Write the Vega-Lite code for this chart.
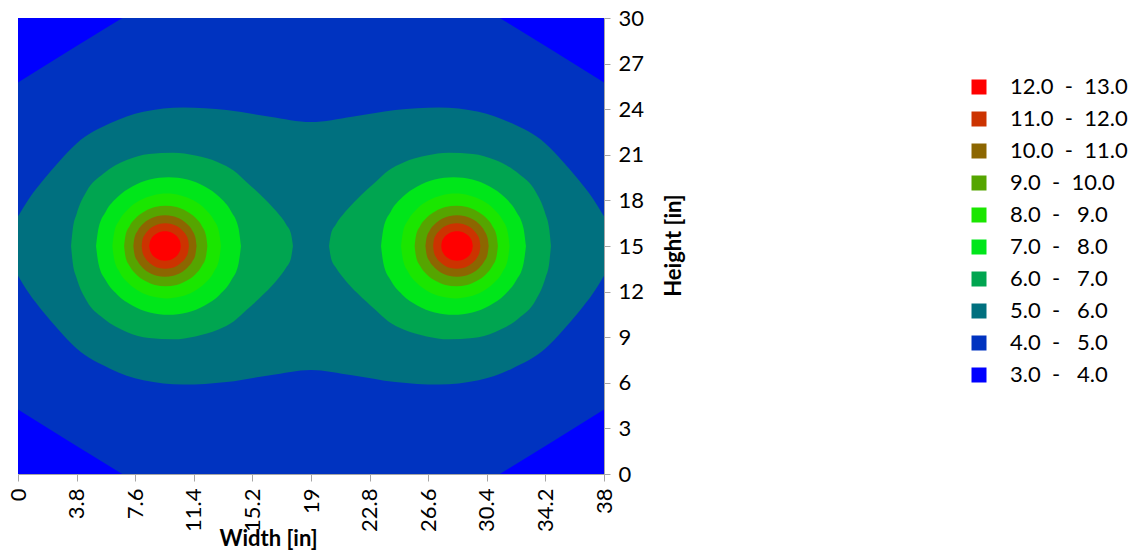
{
  "$schema": "https://vega.github.io/schema/vega-lite/v6.json",
  "width": 586,
  "height": 456,
  "autosize": {"type": "none"},
  "padding": {"left": 18, "top": 18, "right": 535, "bottom": 76},
  "background": "white",
  "config": {
    "view": {"stroke": "#BFBFBF", "strokeWidth": 1},
    "font": "Lato"
  },
  "data": {"values": [
    {"k":3,"id":"A","x":0,"lo":0,"hi":30},{"k":3,"id":"A","x":38,"lo":0,"hi":30},
    {"k":4,"id":"A","x":0,"lo":4.24,"hi":25.76},{"k":4,"id":"A","x":3.38,"lo":2.1,"hi":27.9},{"k":4,"id":"A","x":6.76,"lo":0,"hi":30},{"k":4,"id":"A","x":31.24,"lo":0,"hi":30},{"k":4,"id":"A","x":34.62,"lo":2.1,"hi":27.9},{"k":4,"id":"A","x":38,"lo":4.24,"hi":25.76},
    {"k":5,"id":"A","x":0,"lo":13.05,"hi":16.95},{"k":5,"id":"A","x":0.7,"lo":11.9,"hi":18.1},{"k":5,"id":"A","x":1.64,"lo":10.66,"hi":19.34},{"k":5,"id":"A","x":2.7,"lo":9.4,"hi":20.6},{"k":5,"id":"A","x":3.8,"lo":8.25,"hi":21.75},{"k":5,"id":"A","x":5.97,"lo":6.93,"hi":23.07},{"k":5,"id":"A","x":8.13,"lo":6.16,"hi":23.84},{"k":5,"id":"A","x":10.72,"lo":5.88,"hi":24.12},{"k":5,"id":"A","x":13.53,"lo":6.05,"hi":23.95},{"k":5,"id":"A","x":16.34,"lo":6.5,"hi":23.5},{"k":5,"id":"A","x":19,"lo":6.85,"hi":23.15},{"k":5,"id":"A","x":21.66,"lo":6.5,"hi":23.5},{"k":5,"id":"A","x":24.47,"lo":6.05,"hi":23.95},{"k":5,"id":"A","x":27.28,"lo":5.88,"hi":24.12},{"k":5,"id":"A","x":29.87,"lo":6.16,"hi":23.84},{"k":5,"id":"A","x":32.03,"lo":6.93,"hi":23.07},{"k":5,"id":"A","x":34.2,"lo":8.25,"hi":21.75},{"k":5,"id":"A","x":35.3,"lo":9.4,"hi":20.6},{"k":5,"id":"A","x":36.36,"lo":10.66,"hi":19.34},{"k":5,"id":"A","x":37.3,"lo":11.9,"hi":18.1},{"k":5,"id":"A","x":38,"lo":13.05,"hi":16.95},
    {"k":6,"id":"L","x":3.44,"lo":15,"hi":15},{"k":6,"id":"L","x":3.55,"lo":13.9,"hi":16.1},{"k":6,"id":"L","x":3.8,"lo":12.9,"hi":17.1},{"k":6,"id":"L","x":4.45,"lo":11.4,"hi":18.6},{"k":6,"id":"L","x":5.53,"lo":10.25,"hi":19.75},{"k":6,"id":"L","x":7.05,"lo":9.35,"hi":20.65},{"k":6,"id":"L","x":8.5,"lo":8.95,"hi":21.05},{"k":6,"id":"L","x":10.07,"lo":8.86,"hi":21.14},{"k":6,"id":"L","x":11.5,"lo":9.05,"hi":20.95},{"k":6,"id":"L","x":13.0,"lo":9.5,"hi":20.5},{"k":6,"id":"L","x":14.0,"lo":10.05,"hi":19.95},{"k":6,"id":"L","x":14.83,"lo":10.8,"hi":19.2},{"k":6,"id":"L","x":16.0,"lo":11.9,"hi":18.1},{"k":6,"id":"L","x":16.78,"lo":12.75,"hi":17.25},{"k":6,"id":"L","x":17.4,"lo":13.6,"hi":16.4},{"k":6,"id":"L","x":17.7,"lo":14.2,"hi":15.8},{"k":6,"id":"L","x":17.83,"lo":15,"hi":15},
    {"k":6,"id":"R","x":20.17,"lo":15,"hi":15},{"k":6,"id":"R","x":20.3,"lo":14.2,"hi":15.8},{"k":6,"id":"R","x":20.6,"lo":13.6,"hi":16.4},{"k":6,"id":"R","x":21.22,"lo":12.75,"hi":17.25},{"k":6,"id":"R","x":22.0,"lo":11.9,"hi":18.1},{"k":6,"id":"R","x":23.17,"lo":10.8,"hi":19.2},{"k":6,"id":"R","x":24.0,"lo":10.05,"hi":19.95},{"k":6,"id":"R","x":25.0,"lo":9.5,"hi":20.5},{"k":6,"id":"R","x":26.5,"lo":9.05,"hi":20.95},{"k":6,"id":"R","x":27.93,"lo":8.86,"hi":21.14},{"k":6,"id":"R","x":29.5,"lo":8.95,"hi":21.05},{"k":6,"id":"R","x":30.95,"lo":9.35,"hi":20.65},{"k":6,"id":"R","x":32.47,"lo":10.25,"hi":19.75},{"k":6,"id":"R","x":33.55,"lo":11.4,"hi":18.6},{"k":6,"id":"R","x":34.2,"lo":12.9,"hi":17.1},{"k":6,"id":"R","x":34.45,"lo":13.9,"hi":16.1},{"k":6,"id":"R","x":34.56,"lo":15,"hi":15},
    {"k":7,"id":"L","x":5.06,"lo":15,"hi":15},{"k":7,"id":"L","x":5.22,"lo":13.83,"hi":16.17},{"k":7,"id":"L","x":5.69,"lo":12.74,"hi":17.26},{"k":7,"id":"L","x":6.44,"lo":11.8,"hi":18.2},{"k":7,"id":"L","x":7.41,"lo":11.09,"hi":18.91},{"k":7,"id":"L","x":8.54,"lo":10.63,"hi":19.37},{"k":7,"id":"L","x":9.76,"lo":10.48,"hi":19.52},{"k":7,"id":"L","x":10.98,"lo":10.63,"hi":19.37},{"k":7,"id":"L","x":12.11,"lo":11.09,"hi":18.91},{"k":7,"id":"L","x":13.08,"lo":11.8,"hi":18.2},{"k":7,"id":"L","x":13.83,"lo":12.74,"hi":17.26},{"k":7,"id":"L","x":14.3,"lo":13.83,"hi":16.17},{"k":7,"id":"L","x":14.46,"lo":15,"hi":15},
    {"k":7,"id":"R","x":23.54,"lo":15,"hi":15},{"k":7,"id":"R","x":23.7,"lo":13.83,"hi":16.17},{"k":7,"id":"R","x":24.17,"lo":12.74,"hi":17.26},{"k":7,"id":"R","x":24.92,"lo":11.8,"hi":18.2},{"k":7,"id":"R","x":25.89,"lo":11.09,"hi":18.91},{"k":7,"id":"R","x":27.02,"lo":10.63,"hi":19.37},{"k":7,"id":"R","x":28.24,"lo":10.48,"hi":19.52},{"k":7,"id":"R","x":29.46,"lo":10.63,"hi":19.37},{"k":7,"id":"R","x":30.59,"lo":11.09,"hi":18.91},{"k":7,"id":"R","x":31.56,"lo":11.8,"hi":18.2},{"k":7,"id":"R","x":32.31,"lo":12.74,"hi":17.26},{"k":7,"id":"R","x":32.78,"lo":13.83,"hi":16.17},{"k":7,"id":"R","x":32.94,"lo":15,"hi":15},
    {"k":8,"id":"L","x":6.12,"lo":15,"hi":15},{"k":8,"id":"L","x":6.24,"lo":14.11,"hi":15.89},{"k":8,"id":"L","x":6.59,"lo":13.28,"hi":16.72},{"k":8,"id":"L","x":7.15,"lo":12.56,"hi":17.44},{"k":8,"id":"L","x":7.88,"lo":12.01,"hi":17.99},{"k":8,"id":"L","x":8.73,"lo":11.67,"hi":18.33},{"k":8,"id":"L","x":9.64,"lo":11.55,"hi":18.45},{"k":8,"id":"L","x":10.55,"lo":11.67,"hi":18.33},{"k":8,"id":"L","x":11.4,"lo":12.01,"hi":17.99},{"k":8,"id":"L","x":12.13,"lo":12.56,"hi":17.44},{"k":8,"id":"L","x":12.69,"lo":13.28,"hi":16.72},{"k":8,"id":"L","x":13.04,"lo":14.11,"hi":15.89},{"k":8,"id":"L","x":13.16,"lo":15,"hi":15},
    {"k":8,"id":"R","x":24.84,"lo":15,"hi":15},{"k":8,"id":"R","x":24.96,"lo":14.11,"hi":15.89},{"k":8,"id":"R","x":25.31,"lo":13.28,"hi":16.72},{"k":8,"id":"R","x":25.87,"lo":12.56,"hi":17.44},{"k":8,"id":"R","x":26.6,"lo":12.01,"hi":17.99},{"k":8,"id":"R","x":27.45,"lo":11.67,"hi":18.33},{"k":8,"id":"R","x":28.36,"lo":11.55,"hi":18.45},{"k":8,"id":"R","x":29.27,"lo":11.67,"hi":18.33},{"k":8,"id":"R","x":30.12,"lo":12.01,"hi":17.99},{"k":8,"id":"R","x":30.85,"lo":12.56,"hi":17.44},{"k":8,"id":"R","x":31.41,"lo":13.28,"hi":16.72},{"k":8,"id":"R","x":31.76,"lo":14.11,"hi":15.89},{"k":8,"id":"R","x":31.88,"lo":15,"hi":15},
    {"k":9,"id":"L","x":6.88,"lo":15,"hi":15},{"k":9,"id":"L","x":6.97,"lo":14.31,"hi":15.69},{"k":9,"id":"L","x":7.24,"lo":13.68,"hi":16.32},{"k":9,"id":"L","x":7.67,"lo":13.13,"hi":16.87},{"k":9,"id":"L","x":8.23,"lo":12.71,"hi":17.29},{"k":9,"id":"L","x":8.88,"lo":12.44,"hi":17.56},{"k":9,"id":"L","x":9.58,"lo":12.35,"hi":17.65},{"k":9,"id":"L","x":10.28,"lo":12.44,"hi":17.56},{"k":9,"id":"L","x":10.93,"lo":12.71,"hi":17.29},{"k":9,"id":"L","x":11.49,"lo":13.13,"hi":16.87},{"k":9,"id":"L","x":11.92,"lo":13.68,"hi":16.32},{"k":9,"id":"L","x":12.19,"lo":14.31,"hi":15.69},{"k":9,"id":"L","x":12.28,"lo":15,"hi":15},
    {"k":9,"id":"R","x":25.72,"lo":15,"hi":15},{"k":9,"id":"R","x":25.81,"lo":14.31,"hi":15.69},{"k":9,"id":"R","x":26.08,"lo":13.68,"hi":16.32},{"k":9,"id":"R","x":26.51,"lo":13.13,"hi":16.87},{"k":9,"id":"R","x":27.07,"lo":12.71,"hi":17.29},{"k":9,"id":"R","x":27.72,"lo":12.44,"hi":17.56},{"k":9,"id":"R","x":28.42,"lo":12.35,"hi":17.65},{"k":9,"id":"R","x":29.12,"lo":12.44,"hi":17.56},{"k":9,"id":"R","x":29.77,"lo":12.71,"hi":17.29},{"k":9,"id":"R","x":30.33,"lo":13.13,"hi":16.87},{"k":9,"id":"R","x":30.76,"lo":13.68,"hi":16.32},{"k":9,"id":"R","x":31.03,"lo":14.31,"hi":15.69},{"k":9,"id":"R","x":31.12,"lo":15,"hi":15},
    {"k":10,"id":"L","x":7.48,"lo":15,"hi":15},{"k":10,"id":"L","x":7.55,"lo":14.47,"hi":15.53},{"k":10,"id":"L","x":7.76,"lo":13.99,"hi":16.01},{"k":10,"id":"L","x":8.08,"lo":13.57,"hi":16.43},{"k":10,"id":"L","x":8.51,"lo":13.24,"hi":16.76},{"k":10,"id":"L","x":9.0,"lo":13.04,"hi":16.96},{"k":10,"id":"L","x":9.53,"lo":12.97,"hi":17.03},{"k":10,"id":"L","x":10.06,"lo":13.04,"hi":16.96},{"k":10,"id":"L","x":10.56,"lo":13.24,"hi":16.76},{"k":10,"id":"L","x":10.98,"lo":13.57,"hi":16.43},{"k":10,"id":"L","x":11.31,"lo":13.99,"hi":16.01},{"k":10,"id":"L","x":11.51,"lo":14.47,"hi":15.53},{"k":10,"id":"L","x":11.58,"lo":15,"hi":15},
    {"k":10,"id":"R","x":26.42,"lo":15,"hi":15},{"k":10,"id":"R","x":26.49,"lo":14.47,"hi":15.53},{"k":10,"id":"R","x":26.69,"lo":13.99,"hi":16.01},{"k":10,"id":"R","x":27.02,"lo":13.57,"hi":16.43},{"k":10,"id":"R","x":27.44,"lo":13.24,"hi":16.76},{"k":10,"id":"R","x":27.94,"lo":13.04,"hi":16.96},{"k":10,"id":"R","x":28.47,"lo":12.97,"hi":17.03},{"k":10,"id":"R","x":29.0,"lo":13.04,"hi":16.96},{"k":10,"id":"R","x":29.49,"lo":13.24,"hi":16.76},{"k":10,"id":"R","x":29.92,"lo":13.57,"hi":16.43},{"k":10,"id":"R","x":30.24,"lo":13.99,"hi":16.01},{"k":10,"id":"R","x":30.45,"lo":14.47,"hi":15.53},{"k":10,"id":"R","x":30.52,"lo":15,"hi":15},
    {"k":11,"id":"L","x":8.02,"lo":15,"hi":15},{"k":11,"id":"L","x":8.07,"lo":14.61,"hi":15.39},{"k":11,"id":"L","x":8.23,"lo":14.25,"hi":15.75},{"k":11,"id":"L","x":8.47,"lo":13.94,"hi":16.06},{"k":11,"id":"L","x":8.79,"lo":13.7,"hi":16.3},{"k":11,"id":"L","x":9.15,"lo":13.55,"hi":16.45},{"k":11,"id":"L","x":9.55,"lo":13.5,"hi":16.5},{"k":11,"id":"L","x":9.95,"lo":13.55,"hi":16.45},{"k":11,"id":"L","x":10.32,"lo":13.7,"hi":16.3},{"k":11,"id":"L","x":10.63,"lo":13.94,"hi":16.06},{"k":11,"id":"L","x":10.88,"lo":14.25,"hi":15.75},{"k":11,"id":"L","x":11.03,"lo":14.61,"hi":15.39},{"k":11,"id":"L","x":11.08,"lo":15,"hi":15},
    {"k":11,"id":"R","x":26.92,"lo":15,"hi":15},{"k":11,"id":"R","x":26.97,"lo":14.61,"hi":15.39},{"k":11,"id":"R","x":27.12,"lo":14.25,"hi":15.75},{"k":11,"id":"R","x":27.37,"lo":13.94,"hi":16.06},{"k":11,"id":"R","x":27.68,"lo":13.7,"hi":16.3},{"k":11,"id":"R","x":28.05,"lo":13.55,"hi":16.45},{"k":11,"id":"R","x":28.45,"lo":13.5,"hi":16.5},{"k":11,"id":"R","x":28.85,"lo":13.55,"hi":16.45},{"k":11,"id":"R","x":29.21,"lo":13.7,"hi":16.3},{"k":11,"id":"R","x":29.53,"lo":13.94,"hi":16.06},{"k":11,"id":"R","x":29.77,"lo":14.25,"hi":15.75},{"k":11,"id":"R","x":29.93,"lo":14.61,"hi":15.39},{"k":11,"id":"R","x":29.98,"lo":15,"hi":15},
    {"k":12,"id":"L","x":8.51,"lo":15,"hi":15},{"k":12,"id":"L","x":8.55,"lo":14.75,"hi":15.25},{"k":12,"id":"L","x":8.65,"lo":14.51,"hi":15.49},{"k":12,"id":"L","x":8.81,"lo":14.31,"hi":15.69},{"k":12,"id":"L","x":9.02,"lo":14.16,"hi":15.84},{"k":12,"id":"L","x":9.27,"lo":14.06,"hi":15.94},{"k":12,"id":"L","x":9.53,"lo":14.03,"hi":15.97},{"k":12,"id":"L","x":9.79,"lo":14.06,"hi":15.94},{"k":12,"id":"L","x":10.04,"lo":14.16,"hi":15.84},{"k":12,"id":"L","x":10.25,"lo":14.31,"hi":15.69},{"k":12,"id":"L","x":10.41,"lo":14.51,"hi":15.49},{"k":12,"id":"L","x":10.52,"lo":14.75,"hi":15.25},{"k":12,"id":"L","x":10.55,"lo":15,"hi":15},
    {"k":12,"id":"R","x":27.45,"lo":15,"hi":15},{"k":12,"id":"R","x":27.48,"lo":14.75,"hi":15.25},{"k":12,"id":"R","x":27.59,"lo":14.51,"hi":15.49},{"k":12,"id":"R","x":27.75,"lo":14.31,"hi":15.69},{"k":12,"id":"R","x":27.96,"lo":14.16,"hi":15.84},{"k":12,"id":"R","x":28.21,"lo":14.06,"hi":15.94},{"k":12,"id":"R","x":28.47,"lo":14.03,"hi":15.97},{"k":12,"id":"R","x":28.73,"lo":14.06,"hi":15.94},{"k":12,"id":"R","x":28.98,"lo":14.16,"hi":15.84},{"k":12,"id":"R","x":29.19,"lo":14.31,"hi":15.69},{"k":12,"id":"R","x":29.35,"lo":14.51,"hi":15.49},{"k":12,"id":"R","x":29.45,"lo":14.75,"hi":15.25},{"k":12,"id":"R","x":29.49,"lo":15,"hi":15}
  ]},
  "encoding": {
    "x": {"field": "x", "type": "quantitative",
      "scale": {"domain": [0, 38], "nice": false, "zero": false},
      "axis": {"orient": "bottom", "values": [0, 3.8, 7.6, 11.4, 15.2, 19, 22.8, 26.6, 30.4, 34.2, 38], "format": ".3~g",
        "labelAngle": 270, "labelFontSize": 22, "labelFont": "Lato", "labelColor": "#000000", "labelPadding": 7,
        "labelFlush": false, "labelOverlap": false, "grid": false,
        "tickSize": 7, "tickColor": "#A6A6A6", "domainColor": "#A6A6A6",
        "title": "Width [in]", "titleFont": "Lato", "titleFontSize": 22, "titleFontWeight": "bold", "titleColor": "#000000",
        "titleX": 250, "titleY": 64, "titleAlign": "center", "titleBaseline": "middle"}},
    "y": {"field": "lo", "type": "quantitative",
      "scale": {"domain": [0, 30], "nice": false, "zero": false},
      "axis": {"orient": "right", "values": [0, 3, 6, 9, 12, 15, 18, 21, 24, 27, 30],
        "labelFontSize": 22, "labelFont": "Lato", "labelColor": "#000000", "labelPadding": 8,
        "labelFlush": false, "labelOverlap": false, "grid": false,
        "tickSize": 6, "tickColor": "#A6A6A6", "domainColor": "#A6A6A6",
        "title": "Height [in]", "titleFont": "Lato", "titleFontSize": 22, "titleFontWeight": "bold", "titleColor": "#000000",
        "titleAngle": 270, "titleX": 69, "titleY": 227, "titleAlign": "center", "titleBaseline": "middle"}},
    "y2": {"field": "hi"},
    "detail": {"field": "id"},
    "color": {"field": "k", "type": "nominal",
      "scale": {"domain": [12, 11, 10, 9, 8, 7, 6, 5, 4, 3],
        "range": ["#FF0000", "#CC3300", "#8C6600", "#55A500", "#1AE600", "#00E61A", "#00A550", "#00707F", "#0033C0", "#0000FF"]},
      "legend": {"orient": "none", "legendX": 950, "legendY": 58, "title": null, "padding": 0,
        "symbolType": "square", "symbolSize": 225, "symbolStrokeWidth": 0, "symbolOpacity": 1,
        "labelFont": "Lato", "labelFontSize": 22, "labelColor": "#000000", "labelOffset": 20, "rowPadding": 10, "labelLimit": 300,
        "labelExpr": "['12.0\u00a0\u00a0-\u00a0\u00a013.0','11.0\u00a0\u00a0-\u00a0\u00a012.0','10.0\u00a0\u00a0-\u00a0\u00a011.0','\u00a09.0\u00a0\u00a0-\u00a0\u00a010.0','\u00a08.0\u00a0\u00a0-\u00a0\u00a0\u00a09.0','\u00a07.0\u00a0\u00a0-\u00a0\u00a0\u00a08.0','\u00a06.0\u00a0\u00a0-\u00a0\u00a0\u00a07.0','\u00a05.0\u00a0\u00a0-\u00a0\u00a0\u00a06.0','\u00a04.0\u00a0\u00a0-\u00a0\u00a0\u00a05.0','\u00a03.0\u00a0\u00a0-\u00a0\u00a0\u00a04.0'][12 - datum.value]"}}
  },
  "layer": [
    {"transform": [{"filter": "datum.k == 3"}], "mark": {"type": "area", "interpolate": "linear", "opacity": 1, "clip": true}},
    {"transform": [{"filter": "datum.k == 4"}], "mark": {"type": "area", "interpolate": "linear", "opacity": 1, "clip": true}},
    {"transform": [{"filter": "datum.k == 5"}], "mark": {"type": "area", "interpolate": "monotone", "opacity": 1, "clip": true}},
    {"transform": [{"filter": "datum.k == 6"}], "mark": {"type": "area", "interpolate": "monotone", "opacity": 1, "clip": true}},
    {"transform": [{"filter": "datum.k == 7"}], "mark": {"type": "area", "interpolate": "monotone", "opacity": 1, "clip": true}},
    {"transform": [{"filter": "datum.k == 8"}], "mark": {"type": "area", "interpolate": "monotone", "opacity": 1, "clip": true}},
    {"transform": [{"filter": "datum.k == 9"}], "mark": {"type": "area", "interpolate": "monotone", "opacity": 1, "clip": true}},
    {"transform": [{"filter": "datum.k == 10"}], "mark": {"type": "area", "interpolate": "monotone", "opacity": 1, "clip": true}},
    {"transform": [{"filter": "datum.k == 11"}], "mark": {"type": "area", "interpolate": "monotone", "opacity": 1, "clip": true}},
    {"transform": [{"filter": "datum.k == 12"}], "mark": {"type": "area", "interpolate": "monotone", "opacity": 1, "clip": true}}
  ]
}
